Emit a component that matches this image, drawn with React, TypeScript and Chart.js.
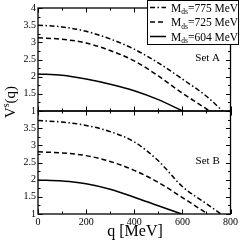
import React, { useEffect, useRef } from "react";
import { Chart, registerables } from "chart.js";

Chart.register(...registerables);

// ---- data ----
const qA775 = [0, 100, 200, 300, 400, 500, 600, 700, 767];
const vA775 = [3.5, 3.45, 3.32, 3.1, 2.8, 2.4, 1.93, 1.43, 1.0];
const qA725 = [0, 100, 200, 300, 400, 500, 600, 700, 712];
const vA725 = [3.13, 3.09, 2.98, 2.76, 2.46, 2.02, 1.52, 1.06, 1.0];
const qA604 = [0, 100, 200, 300, 400, 500, 601];
const vA604 = [2.08, 2.04, 1.93, 1.78, 1.59, 1.33, 1.0];

const qB775 = [0, 100, 200, 300, 400, 500, 600, 700, 760];
const vB775 = [3.72, 3.68, 3.58, 3.4, 3.1, 2.55, 1.8, 1.3, 1.0];
const qB725 = [0, 100, 200, 300, 400, 500, 600, 705];
const vB725 = [2.81, 2.78, 2.7, 2.53, 2.27, 1.92, 1.48, 1.0];
const qB604 = [0, 100, 200, 300, 400, 500, 597];
const vB604 = [1.99, 1.96, 1.88, 1.72, 1.49, 1.24, 1.0];

const seriesLabels = ["775", "725", "604"];
const panelLabels = ["Set A", "Set B"];
const xTicks = [0, 200, 400, 600, 800];
const xMinorTicks = [100, 300, 500, 700];
const yTicks = [1, 1.5, 2, 2.5, 3, 3.5, 4];
const yMinorTicks = [1.25, 1.75, 2.25, 2.75, 3.25, 3.75];

const DASHDOT = [5, 2.5, 1.5, 2.5];
const DASHED = [5, 3];
const SOLID: number[] = [];
const dashes = [DASHDOT, DASHED, SOLID];

const SERIF = "'Liberation Serif', 'Times New Roman', serif";

const pts = (q: number[], v: number[]) => q.map((x, i) => ({ x, y: v[i] }));

const ds = (q: number[], v: number[], dash: number[], axis: string) => ({
  data: pts(q, v),
  yAxisID: axis,
  showLine: true,
  borderColor: "#000",
  borderWidth: 1.5,
  borderDash: dash,
  pointRadius: 0,
  fill: false,
  tension: 0.4,
  cubicInterpolationMode: "monotone" as const,
});

const decorPlugin = {
  id: "decor",
  afterDraw(chart: any) {
    const ctx = chart.ctx as CanvasRenderingContext2D;
    const xs = chart.scales.x;
    const panels = [chart.scales.yA, chart.scales.yB];
    const l = xs.getPixelForValue(xTicks[0]);
    const r = xs.getPixelForValue(xTicks[xTicks.length - 1]);
    const yMin = yTicks[0];
    const yMax = yTicks[yTicks.length - 1];
    ctx.save();
    ctx.strokeStyle = "#000";
    ctx.fillStyle = "#000";
    const seg = (x1: number, y1: number, x2: number, y2: number) => {
      ctx.beginPath();
      ctx.moveTo(x1, y1);
      ctx.lineTo(x2, y2);
      ctx.stroke();
    };
    panels.forEach((ys: any, pi: number) => {
      const top = ys.getPixelForValue(yMax);
      const bot = ys.getPixelForValue(yMin);
      ctx.lineWidth = 1;
      const allX = [...xTicks.map((v) => [v, 4.5]), ...xMinorTicks.map((v) => [v, 2.5])];
      allX.forEach(([v, len]) => {
        const px = Math.round(xs.getPixelForValue(v)) + 0.5;
        seg(px, top, px, top + len);
        seg(px, bot, px, bot - len);
      });
      const allY = [...yTicks.map((v) => [v, 4.5]), ...yMinorTicks.map((v) => [v, 2.5])];
      allY.forEach(([v, len]) => {
        const py = Math.round(ys.getPixelForValue(v)) + 0.5;
        seg(l, py, l + len, py);
        seg(r, py, r - len, py);
      });
      ctx.lineWidth = 1.3;
      ctx.strokeRect(l, top, r - l, bot - top);
      // panel label
      ctx.font = `11px ${SERIF}`;
      ctx.textAlign = "center";
      ctx.textBaseline = "middle";
      ctx.fillText(panelLabels[pi], xs.getPixelForValue(705), ys.getPixelForValue(2.55));
    });

    // legend
    const bx = 147, by = 0.5, bw = 238 - 147, bh = 44;
    ctx.fillStyle = "#fff";
    ctx.fillRect(bx, by, bw, bh);
    ctx.lineWidth = 1;
    ctx.strokeStyle = "#000";
    ctx.strokeRect(bx + 0.5, by, bw, bh);
    ctx.fillStyle = "#000";
    seriesLabels.forEach((lab, i) => {
      const cy = 7.5 + i * 14.5;
      ctx.lineWidth = 1.5;
      ctx.setLineDash(dashes[i]);
      seg(150, cy, 166, cy);
      ctx.setLineDash([]);
      ctx.textAlign = "left";
      ctx.textBaseline = "alphabetic";
      let tx = 171;
      ctx.font = `11.5px ${SERIF}`;
      ctx.fillText("M", tx, cy + 4);
      tx += ctx.measureText("M").width;
      ctx.font = `7.5px ${SERIF}`;
      ctx.fillText("ds", tx, cy + 6.5);
      tx += ctx.measureText("ds").width;
      ctx.font = `11.5px ${SERIF}`;
      ctx.fillText(`=${lab} MeV`, tx, cy + 4);
    });

    // x title
    ctx.font = `16px ${SERIF}`;
    ctx.textAlign = "center";
    ctx.textBaseline = "middle";
    ctx.fillText("q [MeV]", 135, 232);

    // y title
    ctx.save();
    ctx.translate(10, 102);
    ctx.rotate(-Math.PI / 2);
    ctx.font = `15px ${SERIF}`;
    const wV = ctx.measureText("V").width;
    const wQ = ctx.measureText("(q)").width;
    ctx.font = `10px ${SERIF}`;
    const wS = ctx.measureText("s").width;
    const total = wV + wS + wQ;
    let sx = -total / 2;
    ctx.textAlign = "left";
    ctx.textBaseline = "alphabetic";
    ctx.font = `15px ${SERIF}`;
    ctx.fillText("V", sx, 5);
    sx += wV;
    ctx.font = `10px ${SERIF}`;
    ctx.fillText("s", sx, -1);
    sx += wS;
    ctx.font = `15px ${SERIF}`;
    ctx.fillText("(q)", sx, 5);
    ctx.restore();

    ctx.restore();
  },
};

export default function App() {
  const ref = useRef<HTMLCanvasElement | null>(null);
  useEffect(() => {
    if (!ref.current) return;
    Chart.defaults.color = "#000";
    const tickFont = { family: SERIF, size: 10 };
    const yCommon = (hideTop: boolean) => ({
      type: "linear" as const,
      position: "left" as const,
      stack: "v",
      stackWeight: 1,
      min: yTicks[0],
      max: yTicks[yTicks.length - 1],
      grid: { display: false, drawTicks: false },
      border: { display: false },
      afterBuildTicks: (s: any) => {
        s.ticks = yTicks.map((v) => ({ value: v }));
      },
      afterFit: (s: any) => {
        s.width = 38;
      },
      ticks: {
        font: tickFont,
        color: "#000",
        padding: 2,
        autoSkip: false,
        callback: (v: any) => (hideTop && v === yTicks[yTicks.length - 1] ? "" : String(v)),
      },
    });
    const chart = new Chart(ref.current, {
      type: "scatter",
      data: {
        datasets: [
          ds(qA775, vA775, DASHDOT, "yA"),
          ds(qA725, vA725, DASHED, "yA"),
          ds(qA604, vA604, SOLID, "yA"),
          ds(qB775, vB775, DASHDOT, "yB"),
          ds(qB725, vB725, DASHED, "yB"),
          ds(qB604, vB604, SOLID, "yB"),
        ] as any,
      },
      options: {
        animation: false,
        responsive: false,
        maintainAspectRatio: false,
        layout: { padding: { top: 8, right: 9, left: 0, bottom: 0 } },
        plugins: { legend: { display: false }, tooltip: { enabled: false } },
        scales: {
          x: {
            type: "linear",
            position: "bottom",
            min: xTicks[0],
            max: xTicks[xTicks.length - 1],
            grid: { display: false, drawTicks: false },
            border: { display: false },
            afterBuildTicks: (s: any) => {
              s.ticks = xTicks.map((v) => ({ value: v }));
            },
            afterFit: (s: any) => {
              s.height = 28;
            },
            ticks: { font: tickFont, color: "#000", padding: 2, maxRotation: 0, autoSkip: false },
          },
          yB: yCommon(true),
          yA: yCommon(false),
        } as any,
      },
      plugins: [decorPlugin],
    });
    return () => chart.destroy();
  }, []);
  return (
    <div style={{ position: "fixed", left: 0, top: 0, width: 240, height: 242, background: "#fff" }}>
      <canvas ref={ref} width={240} height={242} style={{ width: 240, height: 242 }} />
    </div>
  );
}
